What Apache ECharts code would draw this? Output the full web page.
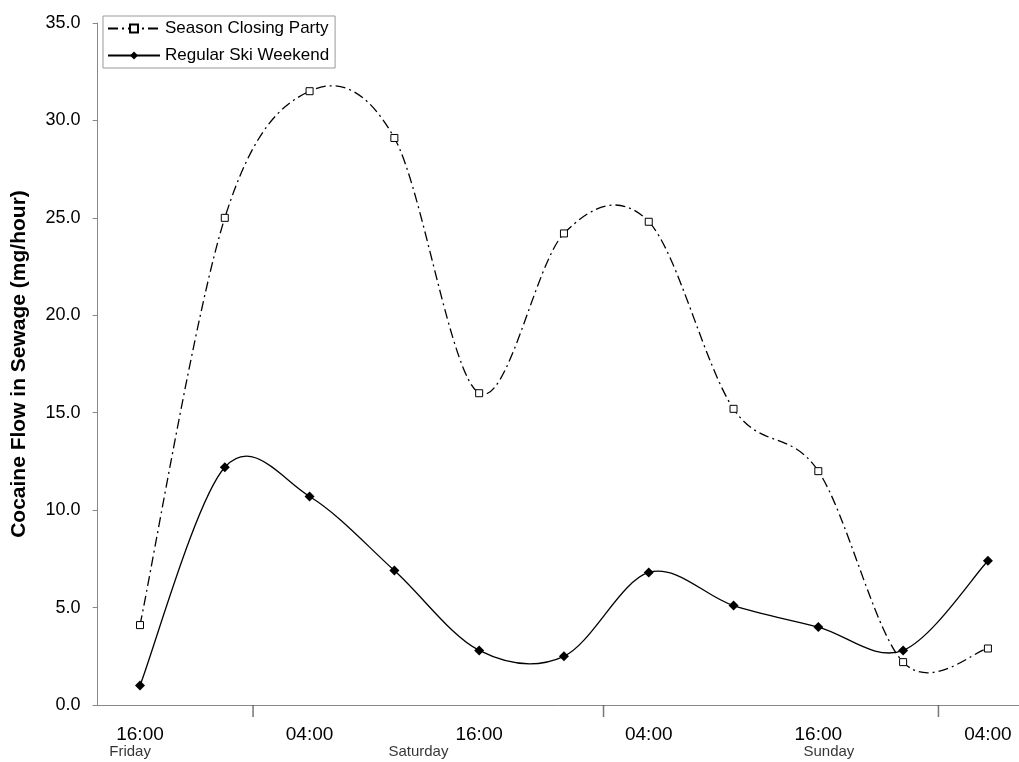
<!DOCTYPE html>
<html>
<head>
<meta charset="utf-8">
<script src="https://cdn.jsdelivr.net/npm/echarts@6/dist/echarts.min.js"></script>
<style>
  html, body { margin: 0; padding: 0; background: #fff; }
  #chart { width: 1019px; height: 762px; }
</style>
</head>
<body>
<div id="chart"></div>
<script>
  // hours since Friday 16:00, one sample every 6 hours
  var hours = [0, 6, 12, 18, 24, 30, 36, 42, 48, 54, 60];
  var party = [4.1, 25.0, 31.5, 29.1, 16.0, 24.2, 24.8, 15.2, 12.0, 2.2, 2.9];
  var regular = [1.0, 12.2, 10.7, 6.9, 2.8, 2.5, 6.8, 5.1, 4.0, 2.8, 7.4];
  var timeLabels = ['16:00', '04:00', '16:00', '04:00', '16:00', '04:00'];
  var dayNames = ['Friday', 'Saturday', 'Sunday'];
  var dayLabelAt = [-0.7, 19.7, 48.75];
  var dayBreaks = [8, 32.8, 56.5];

  var font = 'Liberation Sans, Arial, sans-serif';
  var partyDash = [10, 4, 2, 4];

  function pairs(xs, ys) {
    var out = [];
    for (var i = 0; i < xs.length; i++) out.push([xs[i], ys[i]]);
    return out;
  }

  // excel-like smoothed line (catmull-rom through the points, may overshoot)
  function smoothCurve(values, dash) {
    return function (params, api) {
      if (params.dataIndex !== 0) return null;
      var p = [];
      for (var i = 0; i < values.length; i++) p.push(api.coord([hours[i], values[i]]));
      var d = 'M' + p[0][0] + ' ' + p[0][1];
      for (var j = 0; j < p.length - 1; j++) {
        var a = p[j > 0 ? j - 1 : j], b = p[j], c = p[j + 1], e = p[j + 2 < p.length ? j + 2 : j + 1];
        var c1x = b[0] + (c[0] - a[0]) / 6, c1y = b[1] + (c[1] - a[1]) / 6;
        var c2x = c[0] - (e[0] - b[0]) / 6, c2y = c[1] - (e[1] - b[1]) / 6;
        d += ' C' + c1x + ' ' + c1y + ' ' + c2x + ' ' + c2y + ' ' + c[0] + ' ' + c[1];
      }
      return {
        type: 'path',
        shape: { pathData: d },
        style: { fill: 'none', stroke: '#000', lineWidth: 1.3, lineDash: dash || null }
      };
    };
  }

  var chart = echarts.init(document.getElementById('chart'));
  var option = {
    animation: false,
    backgroundColor: '#fff',
    grid: { left: 97.6, right: 0, top: 23, bottom: 57 },
    legend: {
      orient: 'vertical',
      left: 103,
      top: 16,
      data: [
        { name: 'Season Closing Party', lineStyle: { opacity: 1 } },
        { name: 'Regular Ski Weekend', lineStyle: { opacity: 1 } }
      ],
      itemWidth: 52,
      itemHeight: 10,
      itemGap: 10,
      padding: [4, 6, 4, 4],
      borderColor: '#999',
      borderWidth: 1,
      backgroundColor: '#fff',
      textStyle: { fontFamily: font, fontSize: 17, color: '#000' }
    },
    xAxis: {
      type: 'value',
      min: -3,
      max: 62.2,
      interval: 3,
      splitLine: { show: false },
      axisTick: { show: false },
      axisLine: { onZero: false, lineStyle: { color: '#888', width: 1 } },
      axisLabel: {
        showMaxLabel: false,
        color: '#000',
        fontFamily: font,
        fontSize: 19,
        margin: 20,
        formatter: function (v) {
          if (v >= 0 && v % 12 === 0) return timeLabels[v / 12];
          return '';
        }
      }
    },
    yAxis: {
      type: 'value',
      min: 0,
      max: 35,
      interval: 5,
      name: 'Cocaine Flow in Sewage (mg/hour)',
      nameLocation: 'middle',
      nameGap: 68,
      nameTextStyle: { fontFamily: font, fontSize: 21, fontWeight: 'bold', color: '#000' },
      splitLine: { show: false },
      axisLine: { show: true, onZero: false, lineStyle: { color: '#888', width: 1 } },
      axisTick: { show: true, length: 5, lineStyle: { color: '#888' } },
      axisLabel: {
        color: '#000',
        fontFamily: font,
        fontSize: 18,
        margin: 17,
        formatter: function (v) { return v.toFixed(1); }
      }
    },
    series: [
      {
        name: 'partyCurve',
        type: 'custom',
        silent: true,
        renderItem: smoothCurve(party, partyDash),
        data: pairs(hours, party),
        z: 2
      },
      {
        name: 'regularCurve',
        type: 'custom',
        silent: true,
        renderItem: smoothCurve(regular, null),
        data: pairs(hours, regular),
        z: 2
      },
      {
        name: 'Season Closing Party',
        type: 'line',
        data: pairs(hours, party),
        symbol: 'rect',
        symbolSize: 7,
        showAllSymbol: true,
        itemStyle: { color: '#fff', borderColor: '#000', borderWidth: 1 },
        lineStyle: { color: '#000', width: 1.3, type: partyDash, opacity: 0 },
        z: 3
      },
      {
        name: 'Regular Ski Weekend',
        type: 'line',
        data: pairs(hours, regular),
        symbol: 'diamond',
        symbolSize: 10,
        showAllSymbol: true,
        itemStyle: { color: '#000' },
        lineStyle: { color: '#000', width: 1.3, opacity: 0 },
        z: 4
      },
      {
        name: 'breaks',
        type: 'scatter',
        silent: true,
        clip: false,
        symbol: 'rect',
        symbolSize: [1.5, 12],
        symbolOffset: [0, 6],
        itemStyle: { color: '#555' },
        data: dayBreaks.map(function (h) { return [h, 0]; })
      },
      {
        name: 'days',
        type: 'scatter',
        silent: true,
        clip: false,
        symbolSize: 0,
        label: {
          show: true,
          position: 'inside',
          offset: [0, 47],
          fontFamily: font,
          fontSize: 15,
          color: '#000',
          formatter: function (p) { return dayNames[p.dataIndex]; }
        },
        data: dayLabelAt.map(function (h) { return [h, 0]; })
      }
    ]
  };
  chart.setOption(option);
</script>
</body>
</html>
